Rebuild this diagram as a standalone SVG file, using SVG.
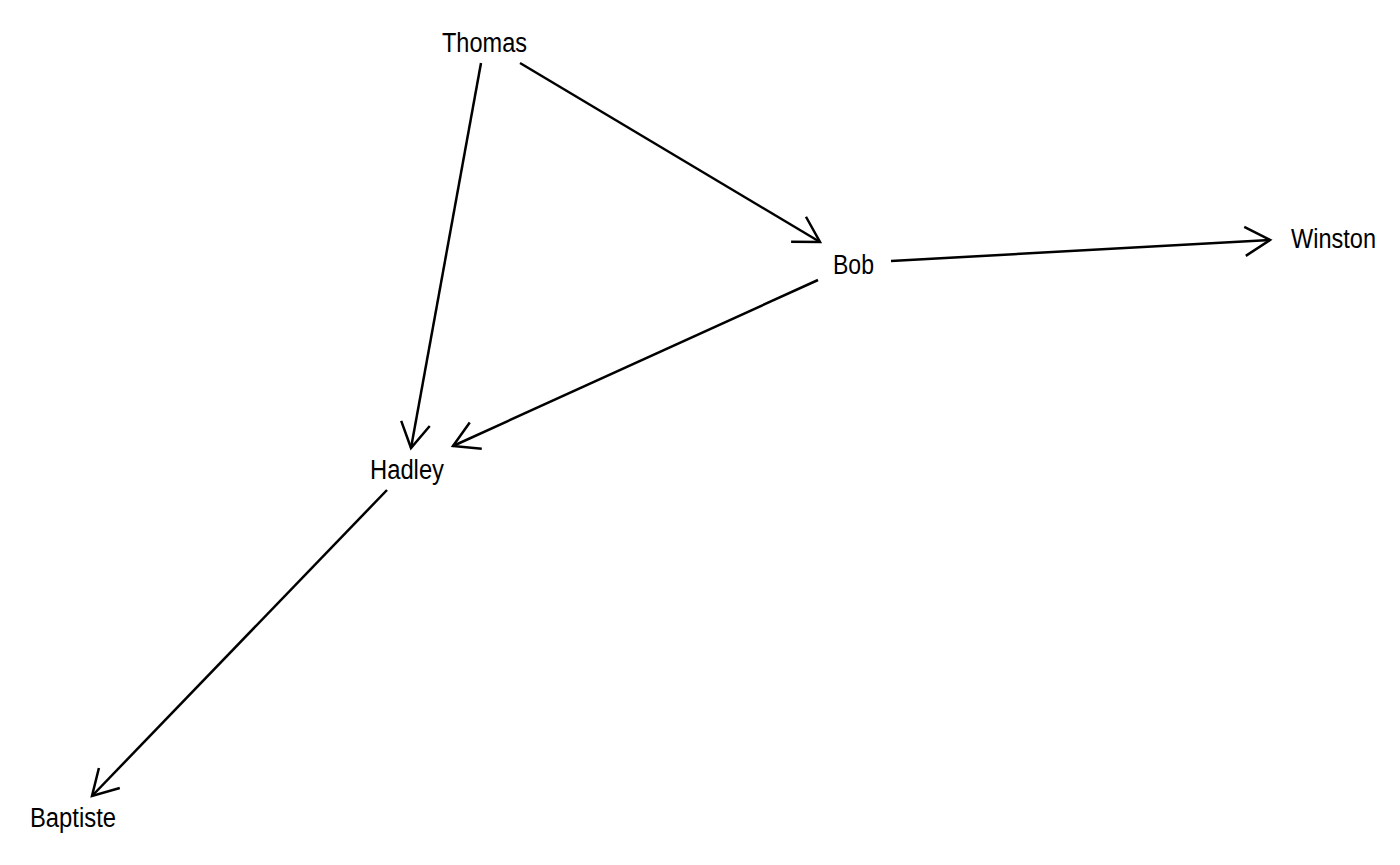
<svg xmlns="http://www.w3.org/2000/svg" width="1400" height="865" viewBox="0 0 1400 865">
<style>
.lbl{font-family:"Liberation Sans",Arial,sans-serif;font-size:27px;fill:#000;text-anchor:middle}
.edge{stroke:#000;stroke-width:2.5;fill:none;marker-end:url(#arr)}
</style>
<defs>
<marker id="arr" markerUnits="userSpaceOnUse" viewBox="-32 -20 36 40" markerWidth="36" markerHeight="40" refX="0" refY="0" orient="auto">
<path d="M-25,-14.5 L0,0 L-25,14.5" fill="none" stroke="#000" stroke-width="2.5"/>
</marker>
</defs>
<rect width="1400" height="865" fill="#fff"/>
<g id="connectors">
<line class="edge" x1="481" y1="63" x2="411" y2="448"/>
<line class="edge" x1="520" y1="63" x2="820" y2="242"/>
<line class="edge" x1="891" y1="261" x2="1270" y2="240"/>
<line class="edge" x1="818" y1="280" x2="453" y2="446"/>
<line class="edge" x1="387" y1="490" x2="92" y2="796"/>
</g>
<g id="Thomas"><text class="lbl" x="484.5" y="52" textLength="85" lengthAdjust="spacingAndGlyphs">Thomas</text></g>
<g id="Bob"><text class="lbl" x="853.5" y="274" textLength="41" lengthAdjust="spacingAndGlyphs">Bob</text></g>
<g id="Winston"><text class="lbl" x="1333.5" y="248" textLength="85" lengthAdjust="spacingAndGlyphs">Winston</text></g>
<g id="Hadley"><text class="lbl" x="407" y="479" textLength="74" lengthAdjust="spacingAndGlyphs">Hadley</text></g>
<g id="Baptiste"><text class="lbl" x="73" y="827" textLength="86" lengthAdjust="spacingAndGlyphs">Baptiste</text></g>
</svg>
